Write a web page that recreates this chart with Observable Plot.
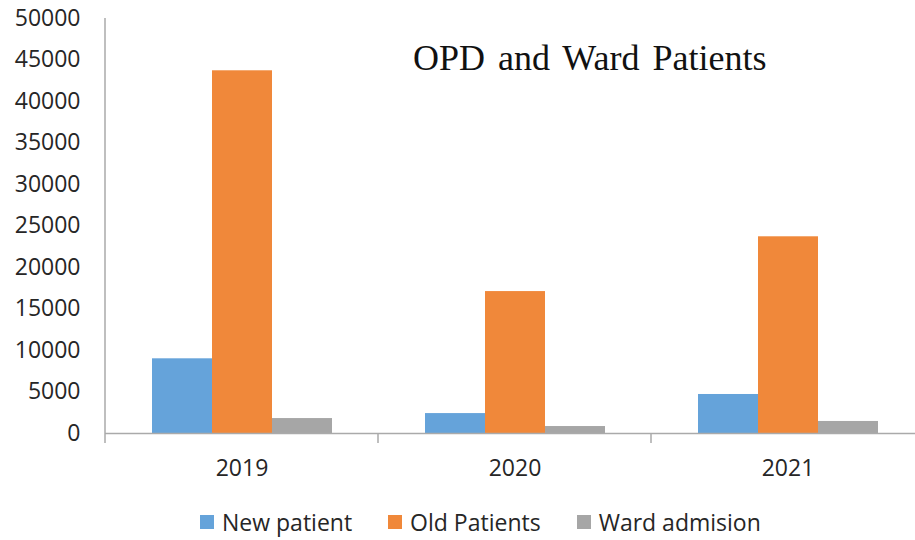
<!DOCTYPE html>
<html><head><meta charset="utf-8">
<script src="https://cdn.jsdelivr.net/npm/d3@7"></script>
<script src="https://cdn.jsdelivr.net/npm/@observablehq/plot@0.6"></script>
<style>
html,body{margin:0;padding:0;background:#fff;overflow:hidden;width:915px;height:540px}
#wrap{position:relative;width:915px;height:540px;overflow:hidden}
#chart{position:absolute;left:0;top:0;width:924px}
#chart svg{max-width:none !important}
#title{position:absolute;left:413px;top:40px;font-family:"Liberation Serif","Times New Roman",serif;font-size:36px;line-height:36px;word-spacing:4px;color:#111;white-space:nowrap}
#legend{position:absolute;left:200px;top:505px}
.lg-swatch{margin-right:36px !important}
.lg-swatch > svg{margin-right:8px !important}
</style></head><body>
<div id="wrap"><div id="chart"></div><div id="title">OPD and Ward Patients</div><div id="legend"></div></div>
<script>
const years = ["2019", "2020", "2021"];
const series = ["New patient", "Old Patients", "Ward admision"];
const newPatient = [9000, 2400, 4700];
const oldPatients = [43700, 17100, 23700];
const wardAdmision = [1800, 840, 1450];
const colors = ["#65a3da", "#f0883a", "#a6a6a6"];
const yTicks = [0, 5000, 10000, 15000, 20000, 25000, 30000, 35000, 40000, 45000, 50000];

const values = [newPatient, oldPatients, wardAdmision];
const data = years.flatMap((yr, i) => series.map((s, j) => ({year: yr, series: s, value: values[j][i]})));

const chart = Plot.plot({
  width: 924, height: 495,
  marginLeft: 105, marginRight: 0, marginTop: 18, marginBottom: 62,
  style: {fontFamily: "'Open Sans', sans-serif", fontSize: "23px", color: "#262626", background: "transparent", overflow: "visible", maxWidth: "none"},
  fx: {domain: years, padding: 0, label: null, axis: "bottom", tickSize: 0, tickPadding: 26},
  x: {domain: series, paddingInner: 0, paddingOuter: 0.74, axis: null},
  y: {domain: [0, 50000], ticks: yTicks, tickSize: 0, tickPadding: 25, label: null, tickFormat: d => String(d)},
  color: {domain: series, range: colors},
  marks: [
    Plot.barY(data, {fx: "year", x: "series", y: "value", fill: "series"}),
    Plot.ruleY([0], {stroke: "#aaaaaa", strokeWidth: 1.5})
  ]
});
document.getElementById("chart").appendChild(chart);

// axis lines / category boundary ticks via the plot's own scales
const fx = chart.scale("fx"), ys = chart.scale("y");
const svg = d3.select(chart);
const y0 = ys.apply(0), yTop = ys.apply(50000);
svg.append("line").attr("x1", fx.apply(years[0])).attr("x2", fx.apply(years[0]))
  .attr("y1", yTop).attr("y2", y0).attr("stroke", "#aaaaaa").attr("stroke-width", 1.5);
years.forEach(yr => {
  const x0 = fx.apply(yr);
  svg.append("line").attr("x1", x0).attr("x2", x0).attr("y1", y0).attr("y2", y0 + 10)
    .attr("stroke", "#aaaaaa").attr("stroke-width", 1.5);
});

const legend = Plot.legend({
  color: {domain: series, range: colors},
  swatchSize: 14,
  className: "lg",
  style: {fontFamily: "'Open Sans', sans-serif", fontSize: "23px", color: "#262626"}
});
document.getElementById("legend").appendChild(legend);
</script>
</body></html>
